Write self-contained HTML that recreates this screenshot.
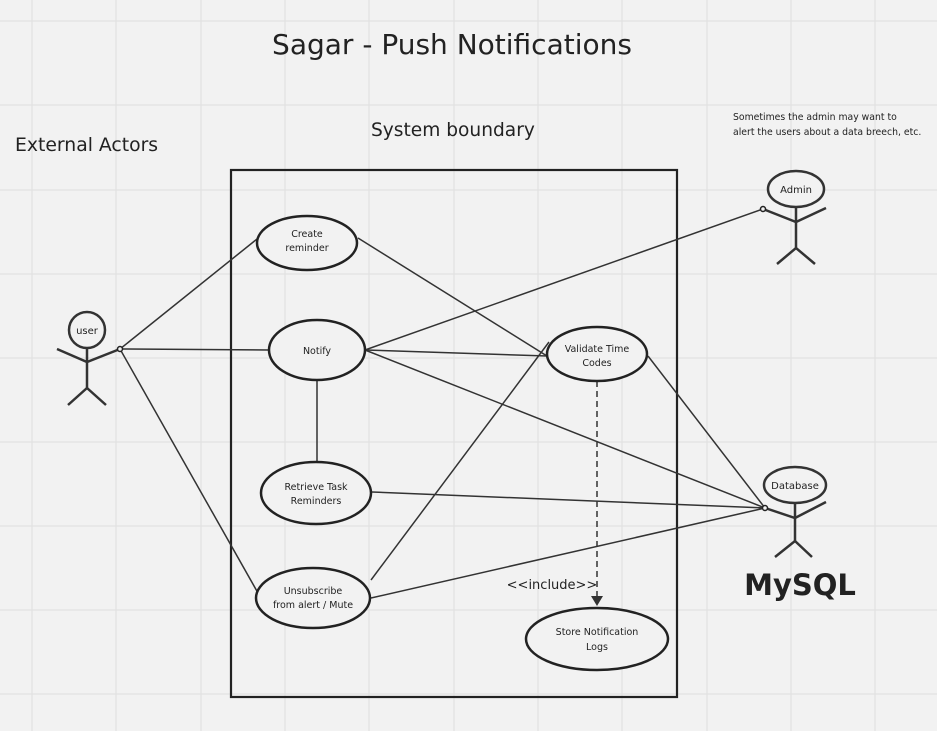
<!DOCTYPE html>
<html><head><meta charset="utf-8"><style>
html,body{margin:0;padding:0;background:#f2f2f2;}
svg{display:block;}
text{font-family:"DejaVu Sans","Liberation Sans",sans-serif;fill:#222;}
</style></head><body>
<svg width="937" height="731" viewBox="0 0 937 731" xmlns="http://www.w3.org/2000/svg">
<rect width="937" height="731" fill="#f2f2f2"/>
<g stroke="#e2e2e2" stroke-width="1.2">
<line x1="32" y1="0" x2="32" y2="731"/><line x1="116" y1="0" x2="116" y2="731"/><line x1="201" y1="0" x2="201" y2="731"/><line x1="285" y1="0" x2="285" y2="731"/><line x1="369" y1="0" x2="369" y2="731"/><line x1="454" y1="0" x2="454" y2="731"/><line x1="538" y1="0" x2="538" y2="731"/><line x1="622" y1="0" x2="622" y2="731"/><line x1="707" y1="0" x2="707" y2="731"/><line x1="791" y1="0" x2="791" y2="731"/><line x1="875" y1="0" x2="875" y2="731"/>
<line x1="0" y1="21" x2="937" y2="21"/><line x1="0" y1="105" x2="937" y2="105"/><line x1="0" y1="190" x2="937" y2="190"/><line x1="0" y1="274" x2="937" y2="274"/><line x1="0" y1="358" x2="937" y2="358"/><line x1="0" y1="442" x2="937" y2="442"/><line x1="0" y1="526" x2="937" y2="526"/><line x1="0" y1="610" x2="937" y2="610"/><line x1="0" y1="694" x2="937" y2="694"/>
</g>
<text x="452" y="54" font-size="28" text-anchor="middle">Sagar - Push Notifications</text>
<text x="371" y="136" font-size="18.6">System boundary</text>
<text x="15" y="151" font-size="18.8">External Actors</text>
<text x="733" y="120" font-size="9.3">Sometimes the admin may want to</text>
<text x="733" y="135" font-size="9.3">alert the users about a data breech, etc.</text>
<text x="800" y="595" font-size="29" font-weight="bold" text-anchor="middle" font-family="Liberation Sans,sans-serif">MySQL</text>
<rect x="231" y="170" width="446" height="527" fill="none" stroke="#222" stroke-width="2.2"/>
<g stroke="#333" stroke-width="1.5" fill="none">
<line x1="120" y1="349" x2="257" y2="239"/><line x1="120" y1="349" x2="269" y2="350"/><line x1="120" y1="349" x2="258" y2="593"/>
<line x1="358" y1="238" x2="547" y2="356"/>
<line x1="365" y1="350" x2="763" y2="209"/><line x1="365" y1="350" x2="547" y2="356"/><line x1="365" y1="350" x2="765" y2="508"/>
<line x1="317" y1="381" x2="317" y2="462"/>
<line x1="372" y1="492" x2="765" y2="508"/>
<line x1="371" y1="598" x2="765" y2="508"/><line x1="371" y1="580" x2="549" y2="342"/>
<line x1="648" y1="356" x2="765" y2="508"/>
<line x1="597" y1="381" x2="597" y2="598" stroke-dasharray="6,4"/>
</g>
<polygon points="591,596 603,596 597,606" fill="#333"/>
<text x="552" y="589" font-size="13" text-anchor="middle">&lt;&lt;include&gt;&gt;</text>
<g stroke="#222" stroke-width="2.5" fill="#f2f2f2">
<ellipse cx="307" cy="243" rx="50" ry="27"/>
<ellipse cx="317" cy="350" rx="48" ry="30"/>
<ellipse cx="316" cy="493" rx="55" ry="31"/>
<ellipse cx="313" cy="598" rx="57" ry="30"/>
<ellipse cx="597" cy="354" rx="50" ry="27"/>
<ellipse cx="597" cy="639" rx="71" ry="31"/>
</g>
<g font-size="9.5" text-anchor="middle">
<text x="307" y="237">Create</text><text x="307" y="251">reminder</text>
<text x="317" y="354">Notify</text>
<text x="316" y="490">Retrieve Task</text><text x="316" y="504">Reminders</text>
<text x="313" y="594">Unsubscribe</text><text x="313" y="608">from alert / Mute</text>
<text x="597" y="352">Validate Time</text><text x="597" y="366">Codes</text>
<text x="597" y="635">Store Notification</text><text x="597" y="650">Logs</text>
</g>
<g stroke="#333" stroke-width="2.5" fill="none">
<circle cx="87" cy="330" r="18" fill="#f2f2f2"/>
<line x1="87" y1="348" x2="87" y2="388"/><polyline points="57,349 87,362 120,349"/><polyline points="68,405 87,388 106,405"/>
<ellipse cx="796" cy="189" rx="28" ry="18" fill="#f2f2f2"/>
<line x1="796" y1="207" x2="796" y2="248"/><polyline points="763,209 796,222 826,208"/><polyline points="777,264 796,248 815,264"/>
<ellipse cx="795" cy="485" rx="31" ry="18" fill="#f2f2f2"/>
<line x1="795" y1="503" x2="795" y2="541"/><polyline points="765,508 795,518 826,502"/><polyline points="775,557 795,541 812,557"/>
</g>
<g stroke="#222" stroke-width="1.5" fill="#f2f2f2">
<circle cx="120" cy="349" r="2.5"/><circle cx="763" cy="209" r="2.5"/><circle cx="765" cy="508" r="2.5"/>
</g>
<g font-size="10" text-anchor="middle">
<text x="87" y="334">user</text><text x="796" y="193">Admin</text><text x="795" y="489">Database</text>
</g>
</svg>
</body></html>
